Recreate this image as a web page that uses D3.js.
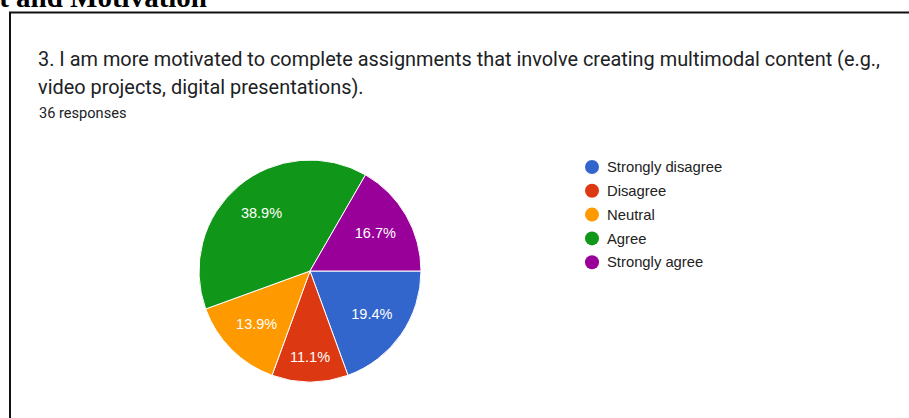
<!DOCTYPE html>
<html>
<head>
<meta charset="utf-8">
<script src="https://cdn.jsdelivr.net/npm/d3@7"></script>
<style>
  html, body { margin: 0; padding: 0; background: #fff; }
  svg { display: block; }
</style>
</head>
<body>
<svg id="chart" width="909" height="418"></svg>
<script>
// Survey item: responses per answer option
const categories = ["Strongly disagree", "Disagree", "Neutral", "Agree", "Strongly agree"];
const counts = [7, 4, 5, 14, 6];
const colors = ["#3366cc", "#dc3912", "#ff9900", "#109618", "#990099"];
const titleLines = [
  "3. I am more motivated to complete assignments that involve creating multimodal content (e.g.,",
  "video projects, digital presentations)."
];
const total = d3.sum(counts);
const responsesLabel = total + " responses";

const svg = d3.select("#chart");

// Section heading above the card (cut off by the top edge)
svg.append("text")
  .attr("x", 207).attr("y", 7)
  .attr("text-anchor", "end")
  .attr("font-family", "'Liberation Serif', serif")
  .attr("font-weight", "bold")
  .attr("font-size", 29)
  .attr("fill", "#000")
  .text("Engagement and Motivation");

// Card frame: top and left edges
svg.append("path")
  .attr("d", "M10,418 V12.5 H909")
  .attr("fill", "none")
  .attr("stroke", "#111")
  .attr("stroke-width", 2);

// Title
const title = svg.append("text")
  .attr("font-family", "Roboto, sans-serif")
  .attr("font-size", 19.9)
  .attr("fill", "#202124");
titleLines.forEach((line, i) => {
  title.append("tspan").attr("x", 38).attr("y", 66 + i * 28).text(line);
});

svg.append("text")
  .attr("x", 39).attr("y", 118)
  .attr("font-family", "Roboto, sans-serif")
  .attr("font-size", 14.6)
  .attr("fill", "#202124")
  .text(responsesLabel);

// Pie, starting at 3 o'clock and running clockwise
const cx = 310, cy = 271, radius = 111;
const pie = d3.pie().sort(null).startAngle(Math.PI / 2).endAngle(Math.PI / 2 + 2 * Math.PI);
const arcs = pie(counts);
const arc = d3.arc().innerRadius(0).outerRadius(radius);

const g = svg.append("g").attr("transform", `translate(${cx},${cy})`);
g.selectAll("path.slice")
  .data(arcs)
  .join("path")
  .attr("class", "slice")
  .attr("d", arc)
  .attr("fill", (d, i) => colors[i])
  .attr("stroke", "#fff")
  .attr("stroke-width", 1);

// Percentage labels: pushed outward in narrow slices so the text fits
const fmt = d3.format(".1%");
const labelFont = 14.5;
const labels = g.selectAll("text.pct")
  .data(arcs)
  .join("text")
  .attr("class", "pct")
  .attr("text-anchor", "middle")
  .attr("dy", "0.35em")
  .attr("font-family", "Arial, 'Liberation Sans', sans-serif")
  .attr("font-size", labelFont)
  .attr("fill", "#fff")
  .text(d => fmt(d.data / total));

labels.each(function (d) {
  const w = this.getComputedTextLength();
  const half = (d.endAngle - d.startAngle) / 2;
  const fit = (w / 2 + 9) / Math.tan(half) + labelFont * 0.4;
  const r = Math.max(radius * 0.68, fit);
  const mid = (d.startAngle + d.endAngle) / 2;
  d3.select(this).attr("transform", `translate(${r * Math.sin(mid)},${-r * Math.cos(mid)})`);
});

// Legend
const legend = svg.append("g").attr("transform", "translate(592,167)");
const items = legend.selectAll("g")
  .data(categories)
  .join("g")
  .attr("transform", (d, i) => `translate(0,${i * 23.8})`);
items.append("circle")
  .attr("r", 7)
  .attr("fill", (d, i) => colors[i]);
items.append("text")
  .attr("x", 15)
  .attr("dy", "0.35em")
  .attr("font-family", "Arial, 'Liberation Sans', sans-serif")
  .attr("font-size", 14.8)
  .attr("fill", "#222")
  .text(d => d);
</script>
</body>
</html>
